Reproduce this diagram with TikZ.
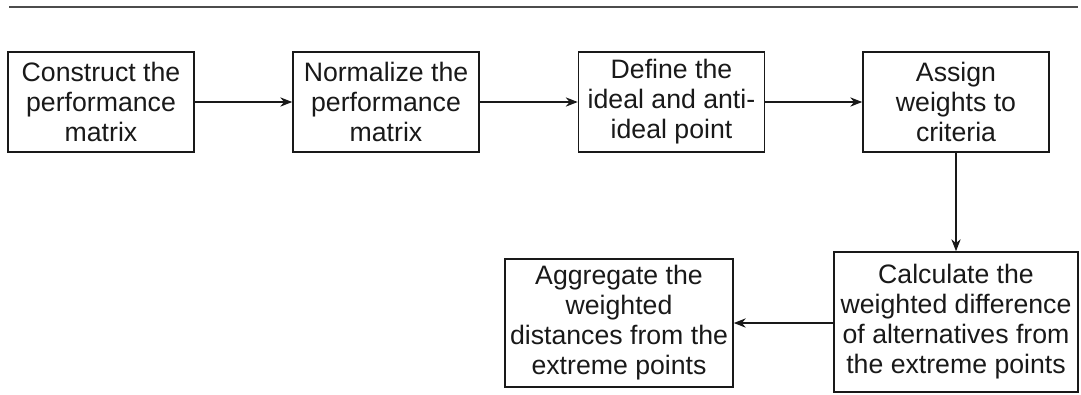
\documentclass[tikz,border=0pt]{standalone}
\usepackage{fontspec}
\setmainfont{Liberation Sans}
\usetikzlibrary{arrows.meta}
\tikzset{
  stepbox/.style={draw=black!90, line width=1.2pt, align=center, inner sep=0pt,
    font=\fontsize{20pt}{22.5pt}\selectfont, text=black!90,
    minimum width=139.5pt, minimum height=75pt},
  conn/.style={draw=black!90, line width=0.9pt, -{Stealth[length=9pt,width=7pt]}}
}
\begin{document}
\begin{tikzpicture}[x=0.75pt,y=-0.75pt]
\useasboundingbox (0,0) rectangle (1081,394);
\coordinate (ls) at (9,7);
\coordinate (le) at (1078,7);
\draw[black!70, line width=1.1pt] (ls) -- (le);
\node[stepbox] (b1) at (101,102) {Construct the\\performance\\matrix};
\node[stepbox] (b2) at (386,102) {Normalize the\\performance\\matrix};
\node[stepbox] (b3) at (671.5,102) {Define the\\ideal and anti-\\ideal point};
\node[stepbox] (b4) at (956,102) {Assign\\weights to\\criteria};
\node[stepbox, minimum width=183pt, minimum height=105pt] (b5) at (956,322) {Calculate the\\weighted difference\\of alternatives from\\the extreme points};
\node[stepbox, minimum width=171pt, minimum height=96pt] (b6) at (619,323) {Aggregate the\\weighted\\distances from the\\extreme points};
\draw[conn] (b1) -- (b2);
\draw[conn] (b2) -- (b3);
\draw[conn] (b3) -- (b4);
\draw[conn] (b4) -- (b5);
\draw[conn] (b5.west |- b6.east) -- (b6.east);
\end{tikzpicture}
\end{document}
